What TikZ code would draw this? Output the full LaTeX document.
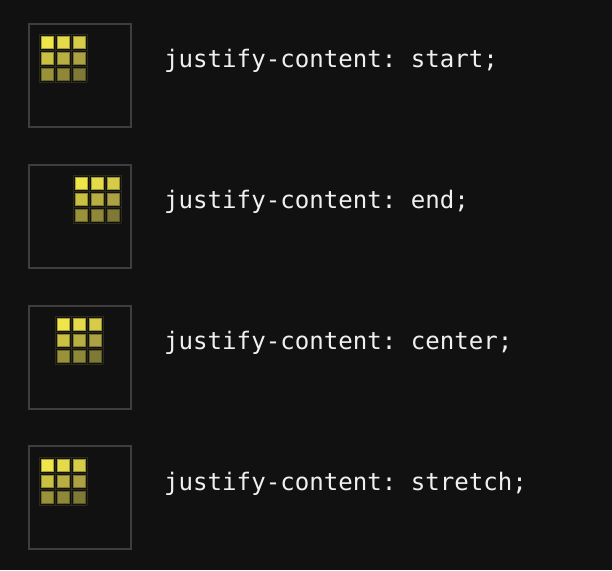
\documentclass[tikz,border=0pt]{standalone}
\usepackage{fontspec}
\setmonofont{DejaVu Sans Mono}
\definecolor{bg}{HTML}{111111}
\definecolor{boxc}{HTML}{3E3E3E}
\definecolor{gridc}{HTML}{2C2A18}
\definecolor{txt}{HTML}{F0F0F0}
\definecolor{c1}{HTML}{F0E64A}
\definecolor{c2}{HTML}{E4DA4A}
\definecolor{c3}{HTML}{D6CC48}
\definecolor{c4}{HTML}{CAC042}
\definecolor{c5}{HTML}{B8AE42}
\definecolor{c6}{HTML}{ACA244}
\definecolor{c7}{HTML}{9A9238}
\definecolor{c8}{HTML}{8E8838}
\definecolor{c9}{HTML}{7E7A36}
\tikzset{
  outerbox/.style={draw=boxc, line width=2pt, minimum width=102pt, minimum height=103pt, inner sep=0pt},
  label/.style={anchor=west, text=txt, font=\ttfamily\fontsize{24.1}{28}\selectfont, inner sep=0pt},
  cellsq/.style={fill=#1, draw=black!30!#1, line width=0.6pt},
  gridline/.style={draw=gridc, line width=1pt}
}
\newcommand{\mygrid}[2]{%
  \begin{scope}[shift={(#1,#2)}]
    \foreach \i in {0,...,3} {
      \draw[gridline] (\i*16,0) -- (\i*16,48);
      \draw[gridline] (0,\i*16) -- (48,\i*16);
    }
    \foreach \r in {0,1,2} {
      \foreach \c in {0,1,2} {
        \pgfmathtruncatemacro{\k}{\r*3+\c+1}
        \path[cellsq=c\k] (\c*16+2,\r*16+2) rectangle (\c*16+14,\r*16+14);
      }
    }
  \end{scope}}
\begin{document}
\begin{tikzpicture}[x=1pt,y=-1pt]
\fill[bg] (0,0) rectangle (612,570);
\useasboundingbox (0,0) rectangle (612,570);
\node[outerbox] (b1) at (80,75.5) {};
\node[outerbox] (b2) at (80,216.5) {};
\node[outerbox] (b3) at (80,357.5) {};
\node[outerbox] (b4) at (80,497.5) {};
\mygrid{39}{34}
\mygrid{73}{175}
\mygrid{55}{316}
\mygrid{39}{457}
\node[label] (t1) at (164,61) {justify-content: start;};
\node[label] (t2) at (164,202) {justify-content: end;};
\node[label] (t3) at (164,343) {justify-content: center;};
\node[label] (t4) at (164,484) {justify-content: stretch;};
\end{tikzpicture}
\end{document}
